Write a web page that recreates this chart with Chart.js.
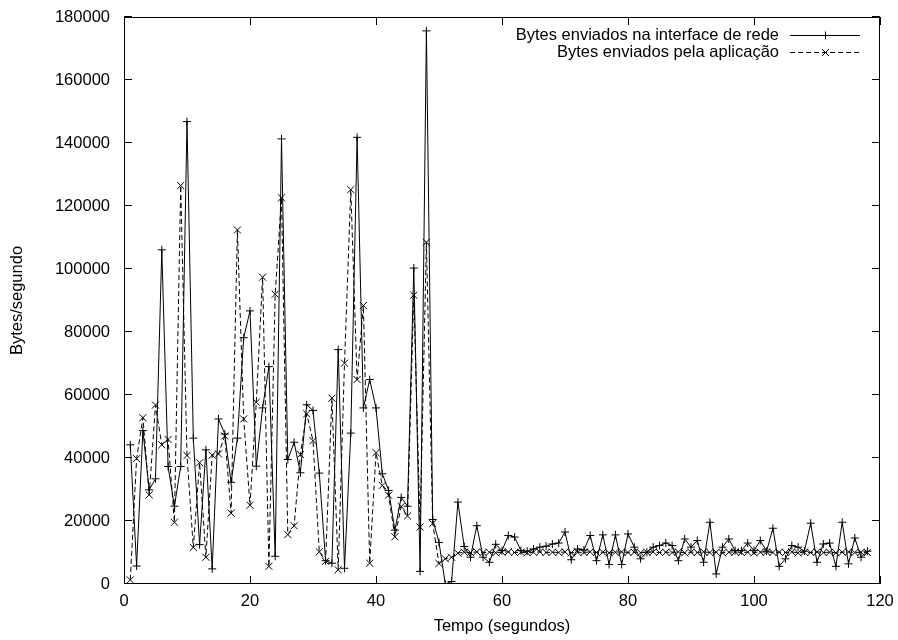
<!DOCTYPE html>
<html><head><meta charset="utf-8">
<script src="https://cdn.jsdelivr.net/npm/chart.js@4"></script>
<style>html,body{margin:0;padding:0;background:#fff}#wrap{width:898px;height:640px}</style>
</head><body><div id="wrap"><canvas id="c" width="898" height="640"></canvas></div>
<script>
const seconds = [1,2,3,4,5,6,7,8,9,10,11,12,13,14,15,16,17,18,19,20,
21,22,23,24,25,26,27,28,29,30,31,32,33,34,35,36,37,38,39,40,
41,42,43,44,45,46,47,48,49,50,51,52,53,54,55,56,57,58,59,60,
61,62,63,64,65,66,67,68,69,70,71,72,73,74,75,76,77,78,79,80,
81,82,83,84,85,86,87,88,89,90,91,92,93,94,95,96,97,98,99,100,
101,102,103,104,105,106,107,108,109,110,111,112,113,114,115,116,117,118];

const interfaceBytes = [44200,5700,48700,29900,33400,106100,37300,24700,37300,146800,
46300,12500,42600,4800,52400,47600,32300,46300,78200,86700,
37400,55900,69000,8800,141300,39500,45000,35300,56900,55100,
35200,7400,6600,74400,5000,47900,141800,55900,64900,55900,
35000,29700,17100,27500,24700,100300,4000,175600,20500,13200,
0,800,26000,11900,8500,18500,8500,6900,12600,10600,
15400,14900,10600,10400,11100,11700,12000,12700,13000,16500,
7700,11100,10800,15400,7400,15600,6200,15600,6200,15900,
11700,8000,10100,11700,12200,13000,12200,7400,14300,11700,
13800,6900,19600,3200,11700,14300,10600,10600,13000,10600,
13800,10400,17700,5600,8000,12200,11700,10400,19300,6900,
12700,13000,5600,19600,6400,14600,8500,10400];

const applicationBytes = [1300,39800,52800,28300,56800,44200,45900,19600,126500,40800,
11600,38500,8500,40900,41300,47000,22500,112400,52400,25000,
57700,97400,5600,92000,122600,15700,18500,41100,54000,45500,
10200,7200,59000,4500,70100,125200,64900,88400,6600,41700,
31300,28200,15000,24600,21600,91700,18100,108500,19200,6500,
8000,8500,9800,10100,10000,10200,10000,10100,9900,10100,
10200,10000,10100,9900,10100,10200,10000,10100,10000,10200,
9900,10100,10000,10200,10000,10100,9900,10100,10200,10000,
10100,9900,10100,10200,10000,10100,10000,10200,9900,10100,
10000,10200,10000,10100,9900,10100,10200,10000,10100,9900,
10100,10200,10000,10100,10000,10200,9900,10100,10000,10200,
10000,10100,9900,10100,10200,10000,10100,10000];

const seriesLabels = ['Bytes enviados na interface de rede', 'Bytes enviados pela aplicação'];
const xTicks = [0,20,40,60,80,100,120];
const yTicks = [0,20000,40000,60000,80000,100000,120000,140000,160000,180000];
const xTitle = 'Tempo (segundos)';
const yTitle = 'Bytes/segundo';

const FONT = '"Liberation Sans", Arial, Helvetica, sans-serif';
const FS = 16.5;

const frameAndLegend = {
  id: 'frameAndLegend',
  afterDraw(chart) {
    const ctx = chart.ctx;
    const a = chart.chartArea;
    const xs = chart.scales.x, ys = chart.scales.y;
    ctx.save();
    ctx.strokeStyle = '#000';
    ctx.lineWidth = 1;
    ctx.setLineDash([]);
    ctx.strokeRect(Math.round(a.left) + 0.5, Math.round(a.top) + 0.5,
      Math.round(a.right - a.left) - 1, Math.round(a.bottom - a.top) - 1);
    const tl = 8;
    ctx.beginPath();
    xTicks.forEach(v => {
      const px = Math.round(xs.getPixelForValue(v)) + 0.5;
      ctx.moveTo(px, a.bottom); ctx.lineTo(px, a.bottom - tl);
      ctx.moveTo(px, a.top); ctx.lineTo(px, a.top + tl);
    });
    yTicks.forEach(v => {
      const py = Math.round(ys.getPixelForValue(v)) - 0.5;
      ctx.moveTo(a.left, py); ctx.lineTo(a.left + tl, py);
      ctx.moveTo(a.right, py); ctx.lineTo(a.right - tl, py);
    });
    ctx.stroke();

    // legend (gnuplot style: text right-aligned, sample on the right)
    ctx.font = FS + 'px ' + FONT;
    ctx.fillStyle = '#000';
    ctx.textAlign = 'right';
    ctx.textBaseline = 'middle';
    const rows = [35, 52];
    chart.data.datasets.forEach((ds, i) => {
      const y = rows[i] + 0.5;
      ctx.fillText(ds.label, 779, rows[i]);
      ctx.beginPath();
      ctx.setLineDash(ds.borderDash || []);
      ctx.moveTo(790, y); ctx.lineTo(860, y);
      ctx.stroke();
      ctx.setLineDash([]);
      ctx.beginPath();
      const cx = 825.5;
      if (ds.pointStyle === 'cross') {
        ctx.moveTo(cx - 4, y); ctx.lineTo(cx + 4, y);
        ctx.moveTo(cx, y - 4); ctx.lineTo(cx, y + 4);
      } else {
        ctx.moveTo(cx - 3.5, y - 3.5); ctx.lineTo(cx + 3.5, y + 3.5);
        ctx.moveTo(cx - 3.5, y + 3.5); ctx.lineTo(cx + 3.5, y - 3.5);
      }
      ctx.stroke();
    });
    ctx.restore();
  }
};

new Chart(document.getElementById('c'), {
  type: 'line',
  data: {
    datasets: [
      {
        label: seriesLabels[0],
        data: seconds.map((t, i) => ({x: t, y: interfaceBytes[i]})),
        borderColor: '#000', backgroundColor: '#000',
        borderWidth: 1, pointStyle: 'cross', pointRadius: 4,
        pointBorderColor: '#000', pointBorderWidth: 1,
        tension: 0, fill: false
      },
      {
        label: seriesLabels[1],
        data: seconds.map((t, i) => ({x: t, y: applicationBytes[i]})),
        borderColor: '#000', backgroundColor: '#000',
        borderWidth: 1, borderDash: [5, 3], pointStyle: 'crossRot', pointRadius: 5,
        pointBorderColor: '#000', pointBorderWidth: 1,
        tension: 0, fill: false
      }
    ]
  },
  options: {
    responsive: false, animation: false, devicePixelRatio: 1,
    layout: {padding: {top: 17, right: 18, left: 0, bottom: 0}},
    plugins: {legend: {display: false}, tooltip: {enabled: false}},
    scales: {
      x: {
        type: 'linear', min: 0, max: 120,
        afterBuildTicks: s => { s.ticks = xTicks.map(v => ({value: v})); },
        afterFit: s => { s.height = 56; s.paddingLeft = 0; s.paddingRight = 0; },
        grid: {display: false, drawTicks: false},
        border: {display: false},
        ticks: {color: '#000', font: {family: FONT, size: FS}, padding: 8, maxRotation: 0,
          callback: v => String(v)},
        title: {display: true, text: xTitle, color: '#000', font: {family: FONT, size: FS},
          padding: {top: 0, bottom: 4}}
      },
      y: {
        type: 'linear', min: 0, max: 180000,
        afterBuildTicks: s => { s.ticks = yTicks.map(v => ({value: v})); },
        afterFit: s => { s.width = 124; s.paddingTop = 0; s.paddingBottom = 0; },
        grid: {display: false, drawTicks: false},
        border: {display: false},
        ticks: {color: '#000', font: {family: FONT, size: FS}, padding: 14,
          callback: v => String(v)},
        title: {display: true, text: yTitle, color: '#000', font: {family: FONT, size: FS},
          padding: {top: 8, bottom: 0}}
      }
    }
  },
  plugins: [frameAndLegend]
});
</script>
</body></html>
